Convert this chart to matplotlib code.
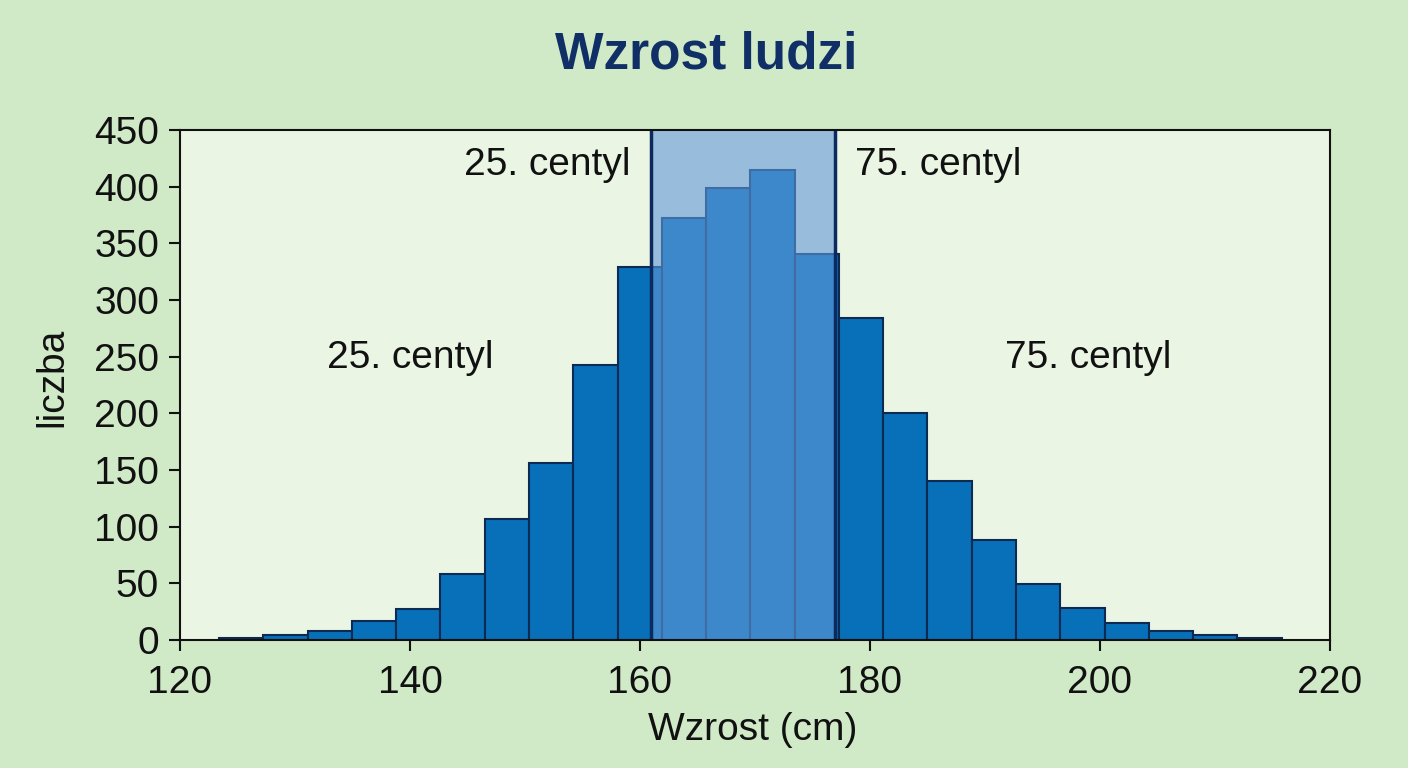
import numpy as np
import matplotlib
matplotlib.use('Agg')
import matplotlib.pyplot as plt

plt.rcParams['font.family'] = ['Liberation Sans', 'DejaVu Sans']

# histogram data
bin_start = 123.4
bin_width = 3.85
counts = [2, 4, 8, 17, 27, 58, 107, 156, 243, 329, 372, 399,
          415, 341, 284, 200, 140, 88, 49, 28, 15, 8, 4, 2]

# 25th and 75th percentile
p25 = 161
p75 = 177

# labels
title = 'Wzrost ludzi'
xlabel = 'Wzrost (cm)'
ylabel = 'liczba'
label_p25 = '25. centyl'
label_p75 = '75. centyl'

lefts = bin_start + bin_width * np.arange(len(counts))

fig = plt.figure(figsize=(14.08, 7.68), dpi=100, facecolor='#d0e9c6')
ax = fig.add_axes([0.1278, 0.1667, 0.8168, 0.664])
ax.set_facecolor('#eaf5e4')

ax.bar(lefts, counts, width=bin_width, align='edge',
       color='#0870b9', edgecolor='#0d2a52', linewidth=1.5, zorder=2)

# shaded interquartile area
ax.axvspan(p25, p75, color='#6299d8', alpha=0.6, lw=0, zorder=3)
ax.axvline(p25, color='#0d2a60', lw=2.5, zorder=4)
ax.axvline(p75, color='#0d2a60', lw=2.5, zorder=4)

ax.text(p25 - 1.8, 419, label_p25, ha='right', va='center', fontsize=28, color='#111111', zorder=5)
ax.text(p75 + 1.7, 419, label_p75, ha='left', va='center', fontsize=28, color='#111111', zorder=5)
ax.text(140, 249, label_p25, ha='center', va='center', fontsize=28, color='#111111', zorder=5)
ax.text(199, 249, label_p75, ha='center', va='center', fontsize=28, color='#111111', zorder=5)

ax.set_xlim(120, 220)
ax.set_ylim(0, 450)
ax.set_xticks(np.arange(120, 221, 20))
ax.set_yticks(np.arange(0, 451, 50))
ax.tick_params(labelsize=28, length=8, width=1.5, colors='#111111')
ax.tick_params(axis='x', pad=10)
ax.tick_params(axis='y', pad=7)
for s in ax.spines.values():
    s.set_linewidth(1.5)
    s.set_color('#111111')
    s.set_zorder(6)

ax.set_xlabel(xlabel, fontsize=28, color='#111111')
ax.xaxis.set_label_coords(0.498, -0.141)
ax.set_ylabel(ylabel, fontsize=28, color='#111111')
ax.yaxis.set_label_coords(-0.0957, 0.514)

fig.text(0.5015, 0.929, title, ha='center', va='center', fontsize=37,
         fontweight='bold', color='#0f2f66')

fig.savefig('out.png', dpi=100, facecolor=fig.get_facecolor())
